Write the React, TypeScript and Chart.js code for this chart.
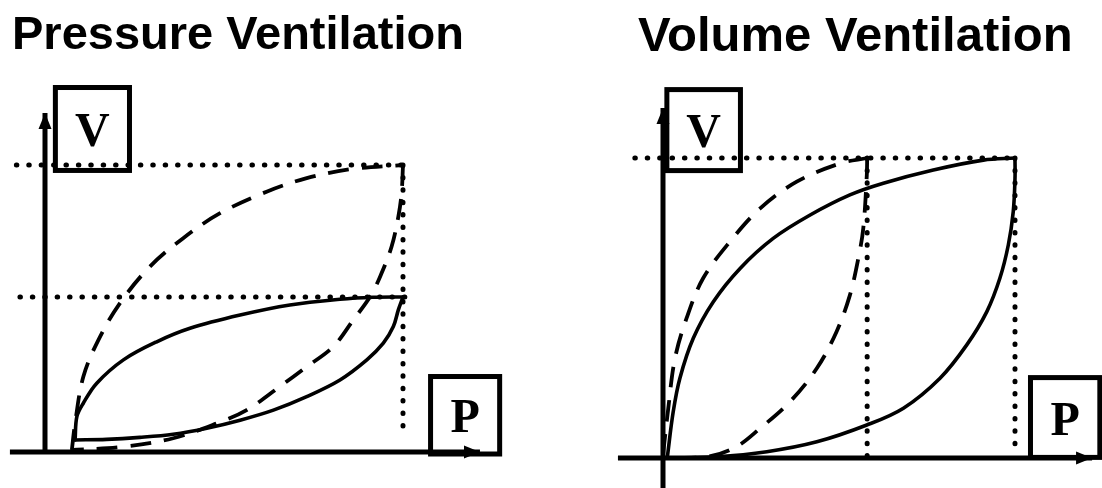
import React, { useEffect, useRef } from "react";
import { Chart, registerables } from "chart.js";

Chart.register(...registerables);

// ---------- Pressure ventilation (left panel) — P and V in % of peak ----------
const pcvSolidInspP = [8.4, 8.9, 10.7, 14.4, 21.9, 31.2, 40.5, 54.5, 68.4, 82.4, 91.6, 100];
const pcvSolidInspV = [4.2, 12.3, 17.0, 23.9, 32.1, 38.4, 43.1, 47.7, 51.2, 53.2, 53.9, 54];
const pcvSolidExpP = [100, 98.7, 97.3, 94.5, 89.9, 82.4, 73.1, 63.8, 54.5, 45.2, 35.8, 26.5, 17.2, 8.4];
const pcvSolidExpV = [54, 49.5, 43.7, 37.9, 32.1, 25.1, 19.3, 14.6, 11.1, 8.3, 6.2, 5.1, 4.4, 4.2];
const pcvDashInspP = [7.5, 8.4, 10.7, 14.9, 20.9, 29.3, 38.6, 48.9, 61.9, 73.1, 85.2, 100];
const pcvDashInspV = [0.7, 10.0, 26.2, 39.0, 51.8, 64.6, 74.5, 83.2, 90.7, 95.4, 98.5, 100];
const pcvDashExpP = [100, 99.6, 98.7, 96.8, 93.6, 90.8, 86.1, 80.5, 73.1, 65.6, 56.3, 48.0, 35.8, 21.9, 7.5];
const pcvDashExpV = [100, 90.1, 82.0, 71.5, 61.1, 54.1, 46.0, 36.7, 29.7, 22.8, 14.6, 10.0, 4.8, 1.8, 0.7];
// reference (dotted) lines
const pcvPeakVolLineP = [-8, 101];
const pcvPeakVolLineV = [100, 100];
const pcvLowVolLineP = [-7, 101];
const pcvLowVolLineV = [54, 54];
const pcvPeakPresLineP = [100, 100];
const pcvPeakPresLineV = [100, 6];
// axes
const pcvAxisXP = [-9.8, 121.5];
const pcvAxisXV = [0, 0];
const pcvAxisYP = [0, 0];
const pcvAxisYV = [0, 118.1];

// ---------- Volume ventilation (right panel) ----------
const vcvSolidInspP = [1.2, 2.9, 4.8, 8.6, 14.3, 21.9, 31.3, 41.8, 53.1, 62.6, 76.8, 91.0, 100];
const vcvSolidInspV = [0, 15.4, 26.6, 39.9, 52.1, 63.2, 73.2, 81.0, 87.7, 91.6, 96.0, 99.3, 100];
const vcvSolidExpP = [100, 100, 99.5, 98.1, 95.7, 92.0, 86.3, 78.7, 68.3, 57.9, 43.7, 29.5, 15.3, 1.2];
const vcvSolidExpV = [100, 93.2, 82.1, 71.0, 59.9, 48.8, 37.7, 26.6, 16.6, 11.0, 5.4, 2.1, 0.4, 0];
const vcvDashInspP = [0, 1.5, 3.4, 6.7, 11.4, 19.0, 27.6, 38.0, 50.3, 58];
const vcvDashInspV = [1, 16.6, 33.2, 46.6, 59.9, 72.1, 83.2, 92.1, 98.2, 100];
const vcvDashExpP = [58, 57.9, 56.9, 55.5, 53.1, 49.3, 43.7, 36.1, 27.6, 20.9, 13.0, 0];
const vcvDashExpV = [100, 94.3, 76.6, 66.6, 54.3, 42.1, 29.9, 18.8, 9.9, 3.8, 0.5, 0];
const vcvPeakVolLineP = [-8, 101];
const vcvPeakVolLineV = [100, 100];
const vcvMidPresLineP = [58, 58];
const vcvMidPresLineV = [100, 0];
const vcvPeakPresLineP = [100, 100];
const vcvPeakPresLineV = [100, 4];
const vcvAxisXP = [-12.8, 121.9];
const vcvAxisXV = [0, 0];
const vcvAxisYP = [0, 0];
const vcvAxisYV = [-10, 116.7];

// axis label boxes (data units: p0..p1, v0..v1)
const pcvBoxes = [
  { label: "V", p: [2.9, 23.6], v: [98.1, 127.0] },
  { label: "P", p: [107.7, 127.0], v: [-0.7, 26.3] },
];
const vcvBoxes = [
  { label: "V", p: [1.1, 22.0], v: [95.8, 122.8] },
  { label: "P", p: [104.4, 124.1], v: [0.2, 26.8] },
];

type Series = { p: number[]; v: number[] };
type Box = { label: string; p: number[]; v: number[] };
interface Panel {
  title: string;
  titleSize: number;
  padLeft: number;
  xRange: number[];
  yRange: number[];
  solid: Series[];
  dashed: Series[];
  dotted: Series[];
  axisX: Series;
  axisY: Series;
  boxes: Box[];
}

const panels: Panel[] = [
  {
    title: "Pressure Ventilation",
    titleSize: 47,
    padLeft: 12,
    xRange: [-9.218, 141.341],
    yRange: [-12.544, 135.052],
    solid: [
      { p: pcvSolidInspP, v: pcvSolidInspV },
      { p: pcvSolidExpP, v: pcvSolidExpV },
    ],
    dashed: [
      { p: pcvDashInspP, v: pcvDashInspV },
      { p: pcvDashExpP, v: pcvDashExpV },
    ],
    dotted: [
      { p: pcvPeakVolLineP, v: pcvPeakVolLineV },
      { p: pcvLowVolLineP, v: pcvLowVolLineV },
      { p: pcvPeakPresLineP, v: pcvPeakPresLineV },
    ],
    axisX: { p: pcvAxisXP, v: pcvAxisXV },
    axisY: { p: pcvAxisYP, v: pcvAxisYV },
    boxes: pcvBoxes,
  },
  {
    title: "Volume Ventilation",
    titleSize: 49,
    padLeft: 87,
    xRange: [-7.102, 124.716],
    yRange: [-10, 130.4],
    solid: [
      { p: vcvSolidInspP, v: vcvSolidInspV },
      { p: vcvSolidExpP, v: vcvSolidExpV },
    ],
    dashed: [
      { p: vcvDashInspP, v: vcvDashInspV },
      { p: vcvDashExpP, v: vcvDashExpV },
    ],
    dotted: [
      { p: vcvPeakVolLineP, v: vcvPeakVolLineV },
      { p: vcvMidPresLineP, v: vcvMidPresLineV },
      { p: vcvPeakPresLineP, v: vcvPeakPresLineV },
    ],
    axisX: { p: vcvAxisXP, v: vcvAxisXV },
    axisY: { p: vcvAxisYP, v: vcvAxisYV },
    boxes: vcvBoxes,
  },
];

const zip = (s: Series) => s.p.map((x, i) => ({ x, y: s.v[i] }));

function drawArrow(ctx: CanvasRenderingContext2D, x0: number, y0: number, x1: number, y1: number) {
  const a = Math.atan2(y1 - y0, x1 - x0);
  const len = 16;
  const hw = 6.5;
  const bx = x1 - len * Math.cos(a);
  const by = y1 - len * Math.sin(a);
  ctx.beginPath();
  ctx.moveTo(x1, y1);
  ctx.lineTo(bx + hw * Math.sin(a), by - hw * Math.cos(a));
  ctx.lineTo(bx - hw * Math.sin(a), by + hw * Math.cos(a));
  ctx.closePath();
  ctx.fill();
}

function PanelChart({ panel, left }: { panel: Panel; left: number }) {
  const ref = useRef<HTMLCanvasElement | null>(null);
  useEffect(() => {
    if (!ref.current) return;
    const datasets: any[] = [];
    const base = { pointRadius: 0, showLine: true, fill: false, clip: false as any, borderColor: "#000" };
    panel.solid.forEach((s) =>
      datasets.push({ ...base, data: zip(s), borderWidth: 3.6, tension: 0.35, borderCapStyle: "round" })
    );
    panel.dashed.forEach((s) =>
      datasets.push({ ...base, data: zip(s), borderWidth: 3.8, tension: 0.35, borderDash: [21, 13] })
    );
    panel.dotted.forEach((s) =>
      datasets.push({ ...base, data: zip(s), borderWidth: 5, tension: 0, borderDash: [0.5, 11.9], borderCapStyle: "round" })
    );
    datasets.push({ ...base, data: zip(panel.axisX), borderWidth: 5, tension: 0 });
    datasets.push({ ...base, data: zip(panel.axisY), borderWidth: 5, tension: 0 });

    const annotate = {
      id: "annotate",
      afterDatasetsDraw(chart: any) {
        const ctx: CanvasRenderingContext2D = chart.ctx;
        const xs = chart.scales.x;
        const ys = chart.scales.y;
        const px = (v: number) => xs.getPixelForValue(v);
        const py = (v: number) => ys.getPixelForValue(v);
        ctx.save();
        ctx.fillStyle = "#000";
        ctx.strokeStyle = "#000";
        // arrowheads
        const ax = panel.axisX;
        drawArrow(ctx, px(ax.p[0]), py(ax.v[0]), px(ax.p[1]), py(ax.v[1]));
        const ay = panel.axisY;
        drawArrow(ctx, px(ay.p[0]), py(ay.v[0]), px(ay.p[1]), py(ay.v[1]));
        // label boxes
        ctx.lineWidth = 5;
        panel.boxes.forEach((b) => {
          const x0 = px(b.p[0]);
          const x1 = px(b.p[1]);
          const y0 = py(b.v[1]);
          const y1 = py(b.v[0]);
          ctx.strokeRect(x0, y0, x1 - x0, y1 - y0);
          ctx.font = "bold 48px 'Liberation Serif', 'Times New Roman', serif";
          ctx.textAlign = "center";
          ctx.textBaseline = "alphabetic";
          ctx.fillText(b.label, (x0 + x1) / 2, (y0 + y1) / 2 + 17);
        });
        ctx.restore();
      },
    };

    const chart = new Chart(ref.current, {
      type: "scatter",
      data: { datasets },
      options: {
        animation: false,
        responsive: false,
        maintainAspectRatio: false,
        events: [],
        layout: { padding: { left: panel.padLeft, right: 0, top: 0, bottom: 0 } },
        scales: {
          x: { type: "linear", display: false, min: panel.xRange[0], max: panel.xRange[1] },
          y: { type: "linear", display: false, min: panel.yRange[0], max: panel.yRange[1] },
        },
        plugins: {
          legend: { display: false },
          tooltip: { enabled: false },
          title: {
            display: true,
            text: panel.title,
            align: "start",
            color: "#000",
            padding: { top: 8, bottom: 0 },
            font: {
              family: "'Liberation Sans', Arial, Helvetica, sans-serif",
              size: panel.titleSize,
              weight: "bold",
              lineHeight: 1.2,
            },
          },
        },
      } as any,
      plugins: [annotate as any],
    });
    return () => chart.destroy();
  }, [panel]);
  return (
    <canvas
      ref={ref}
      width={551}
      height={488}
      style={{ position: "absolute", left, top: 0, width: 551, height: 488, display: "block" }}
    />
  );
}

export default function App() {
  return (
    <div style={{ position: "absolute", left: 0, top: 0, width: 1102, height: 488, background: "#fff", overflow: "hidden" }}>
      <PanelChart panel={panels[0]} left={0} />
      <PanelChart panel={panels[1]} left={551} />
    </div>
  );
}
